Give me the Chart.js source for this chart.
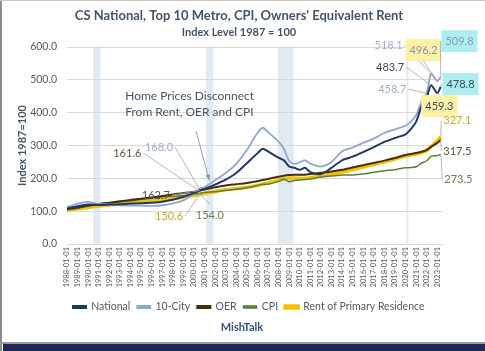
<!DOCTYPE html>
<html>
<head>
<meta charset="utf-8">
<title>CS National, Top 10 Metro, CPI, Owners' Equivalent Rent</title>
<script src="https://cdn.jsdelivr.net/npm/chart.js@4.4.1/dist/chart.umd.min.js"></script>
<style>
  html, body { margin: 0; padding: 0; background: #fff; }
  #chart { display: block; }
</style>
</head>
<body>
<canvas id="chart" width="485" height="351"></canvas>
<script>
// Index level, 1987 = 100
const dates = [
  '1988-01', '1989-01', '1990-01', '1991-01', '1992-01', '1993-01', '1994-01', '1995-01',
  '1996-01', '1997-01', '1998-01', '1999-01', '2000-01', '2000-07', '2001-01', '2002-01',
  '2003-01', '2004-01', '2005-01', '2006-01', '2006-07', '2007-01', '2008-01', '2008-07',
  '2009-01', '2009-07', '2010-01', '2010-07', '2011-01', '2012-01', '2013-01', '2014-01',
  '2015-01', '2016-01', '2017-01', '2018-01', '2019-01', '2020-01', '2020-07', '2021-01',
  '2021-07', '2022-01', '2022-06', '2023-01', '2023-05'
];
const national = [
  108, 115, 120, 119, 120, 121, 123, 124,
  126, 129, 135, 144, 155, 162.7, 168, 181,
  196, 216, 246, 276, 290, 282, 263, 255,
  236, 232, 226, 232, 219, 213, 232, 255,
  266, 280, 295, 311, 323, 334, 350, 372,
  418, 445, 483.7, 459.3, 478.8
];
const tenCity = [
  112, 123, 128, 122, 121, 118, 117, 117,
  116, 118, 124, 133, 153, 168.0, 173, 194,
  216, 244, 286, 338, 354, 341, 312, 290,
  253, 244, 249, 255, 245, 236, 250, 282,
  294, 308, 321, 338, 349, 360, 372, 392,
  432, 458.7, 518.1, 496.2, 509.8
];
const oer = [
  106, 111, 117, 122, 126, 130, 134, 138,
  142, 146, 151, 155, 159, 161.6, 166, 173,
  178, 182, 186, 191, 195, 198, 205, 208,
  210, 211, 211, 211, 213, 217, 221, 226,
  233, 240, 247, 254, 262, 271, 274, 277,
  281, 286, 296, 308, 317.5
];
const cpi = [
  104.3, 108.9, 114.6, 121.0, 124.2, 128.2, 131.5, 135.2,
  138.8, 143.1, 145.3, 147.8, 151.8, 154.0, 157.5, 159.3,
  163.4, 166.5, 171.5, 178.3, 181.9, 182.0, 190.8, 197.8,
  189.8, 193.3, 194.9, 196.1, 198.0, 203.9, 207.1, 210.3,
  210.2, 213.0, 218.4, 222.9, 226.3, 232.0, 233.0, 235.3,
  246.2, 252.8, 267.5, 269.1, 273.5
];
const rent = [
  103, 107, 111, 116, 119, 122, 125, 128,
  131, 135, 139, 143, 148, 150.6, 154, 160,
  165, 169, 173, 178, 182, 186, 194, 197,
  200, 201, 200, 200, 202, 207, 213, 219,
  226, 234, 242, 250, 259, 268, 271, 274,
  278, 285, 297, 314, 327.1
];

// NBER recessions (shaded)
const recessionStart = ['1990-07', '2001-03', '2007-12', '2020-02'];
const recessionEnd = ['1991-03', '2001-11', '2009-06', '2020-04'];

const textColor = '#44546a';
const tickColor = '#595959';

function toYear(s) {
    const [y, m] = s.split('-').map(Number);
    return y + (m - 1) / 12;
}

const seriesList = [
    { label: 'National', data: national, color: '#203864', width: 2 },
    { label: '10-City', data: tenCity, color: '#8fa6cc', width: 1.8 },
    { label: 'OER', data: oer, color: '#4a2c0c', width: 2 },
    { label: 'CPI', data: cpi, color: '#5b7f35', width: 1.5 },
    { label: 'Rent of Primary Residence', data: rent, color: '#f2c300', width: 3.5 },
];

// Data callouts: which point, and where its label sits (in data units)
const callouts = [
    { series: 'OER', date: '2000-07', lx: 1993.7, ly: 277, color: '#6b5232' },
    { series: '10-City', date: '2000-07', lx: 1996.7, ly: 295, color: '#9fb0cb' },
    { series: 'National', date: '2000-07', lx: 1996.4, ly: 149, color: '#4a5568' },
    { series: 'Rent of Primary Residence', date: '2000-07', lx: 1997.65, ly: 85, color: '#c9a62c' },
    { series: 'CPI', date: '2000-07', lx: 2001.5, ly: 88, color: '#6f7b55' },
    { series: '10-City', date: '2022-06', lx: 2018.4, ly: 606, color: '#9fb0cb' },
    { series: '10-City', date: '2023-01', lx: 2021.7, ly: 591, color: '#8594aa', box: '#fdf1a6' },
    { series: '10-City', date: '2023-05', lx: 2025.1, ly: 618, color: '#7f9fb0', box: '#aeeef0' },
    { series: 'National', date: '2022-06', lx: 2018.55, ly: 539, color: '#3d4a63' },
    { series: '10-City', date: '2022-01', lx: 2018.75, ly: 472, color: '#9fb0cb' },
    { series: 'National', date: '2023-05', lx: 2025.2, ly: 487, color: '#3d4a63', box: '#aeeef0' },
    { series: 'National', date: '2023-01', lx: 2023.2, ly: 420, color: '#3d4a63', box: '#fdf1a6' },
    { series: 'Rent of Primary Residence', date: '2023-05', lx: 2024.9, ly: 375, color: '#c9a62c' },
    { series: 'OER', date: '2023-05', lx: 2024.9, ly: 283, color: '#5e4b34' },
    { series: 'CPI', date: '2023-05', lx: 2025.0, ly: 198, color: '#6f7b55' },
];

Chart.defaults.font.family = "Lato, 'Open Sans', sans-serif";
Chart.defaults.color = tickColor;

// Frame, titles and footer text
const framePlugin = {
    id: 'frame',
    afterLayout(chart) {
        // put the legend row where the original has it
        const lg = chart.legend;
        if (!lg || !lg.lineWidths) return;
        const pad = lg.options.labels.padding;
        const x0 = (lg.left + pad + lg.right - lg.lineWidths[0]) / 2;
        const dx = 73 - x0;
        lg.left += dx;
        lg.right += dx;
        const h = lg.bottom - lg.top;
        lg.top = 307 - pad - 5.25;
        lg.bottom = lg.top + h;
    },
    beforeDraw(chart) {
        const { ctx, width, height } = chart;
        ctx.save();
        ctx.fillStyle = '#fff';
        ctx.fillRect(0, 0, width, height);
        ctx.fillStyle = '#8c8c8c';
        ctx.fillRect(0, 0, 2, height);
        ctx.fillStyle = '#c8c8c8';
        ctx.fillRect(0, 0, width, 1);
        ctx.restore();
    },
    afterDraw(chart) {
        const { ctx, width, height } = chart;
        ctx.save();
        ctx.fillStyle = '#9a9a9a';
        ctx.fillRect(0, height - 9, width, 2);
        ctx.fillStyle = '#1f2858';
        ctx.fillRect(3, height - 7, width - 3, 7);

        ctx.fillStyle = textColor;
        ctx.textAlign = 'center';
        ctx.textBaseline = 'middle';
        ctx.font = "bold 13px Lato";
        ctx.fillText("CS National, Top 10 Metro, CPI, Owners' Equivalent Rent", 239, 16);
        ctx.font = "bold 11px Lato";
        ctx.fillText('Index Level 1987 = 100', 239, 32);
        ctx.fillStyle = '#33507e';
        ctx.font = "bold 11px Lato";
        ctx.fillText('MishTalk', 242, 327);
        ctx.restore();
    }
};

// Shaded recession bands
const recessionPlugin = {
    id: 'recessions',
    beforeDatasetsDraw(chart) {
        const { ctx, chartArea, scales: { x } } = chart;
        ctx.save();
        ctx.fillStyle = 'rgba(200, 215, 232, 0.55)';
        recessionStart.forEach((s, i) => {
            const x0 = x.getPixelForValue(toYear(s));
            const x1 = x.getPixelForValue(toYear(recessionEnd[i]));
            ctx.fillRect(x0, chartArea.top, Math.max(x1 - x0, 2), chartArea.bottom - chartArea.top);
        });
        ctx.restore();
    }
};

// Value labels with leader lines + the "disconnect" note
const calloutPlugin = {
    id: 'callouts',
    afterDatasetsDraw(chart) {
        const { ctx, scales: { x, y } } = chart;
        ctx.save();
        ctx.font = '11px Lato';
        ctx.textAlign = 'center';
        ctx.textBaseline = 'middle';
        callouts.forEach(c => {
            const s = seriesList.find(d => d.label === c.series);
            const i = dates.indexOf(c.date);
            const value = s.data[i];
            const px = x.getPixelForValue(toYear(c.date));
            const py = y.getPixelForValue(value);
            const cx = x.getPixelForValue(c.lx);
            const cy = y.getPixelForValue(c.ly);
            const text = value.toFixed(1);
            const w = ctx.measureText(text).width;
            const half = w / 2 + (c.box ? 4 : 1);
            let sx, sy;
            if (px > cx + half) { sx = cx + half + 1; sy = cy; }
            else if (px < cx - half) { sx = cx - half - 1; sy = cy; }
            else { sx = cx; sy = py < cy ? cy - 11 : cy + 11; }
            ctx.strokeStyle = '#a6a6a6';
            ctx.lineWidth = 0.8;
            ctx.beginPath();
            ctx.moveTo(sx, sy);
            ctx.lineTo(px, py);
            ctx.stroke();
            if (c.box) {
                ctx.fillStyle = c.box;
                ctx.fillRect(cx - half, cy - 11, half * 2, 22);
            }
            ctx.fillStyle = c.color;
            ctx.fillText(text, cx, cy);
        });

        // note + arrow
        const nx = x.getPixelForValue(1993.5);
        const ny = y.getPixelForValue(450);
        ctx.fillStyle = textColor;
        ctx.textAlign = 'left';
        ctx.font = '12px Lato';
        ctx.fillText('Home Prices Disconnect', nx, ny);
        ctx.fillText('From Rent, OER and CPI', nx, ny + 16);

        const ax0 = x.getPixelForValue(2000.2), ay0 = y.getPixelForValue(344);
        const ax1 = x.getPixelForValue(2001.45), ay1 = y.getPixelForValue(194);
        const ang = Math.atan2(ay1 - ay0, ax1 - ax0);
        ctx.strokeStyle = '#8496b0';
        ctx.fillStyle = '#8496b0';
        ctx.lineWidth = 0.9;
        ctx.beginPath();
        ctx.moveTo(ax0, ay0);
        ctx.lineTo(ax1, ay1);
        ctx.stroke();
        ctx.beginPath();
        ctx.moveTo(ax1, ay1);
        ctx.lineTo(ax1 - 6 * Math.cos(ang - 0.4), ay1 - 6 * Math.sin(ang - 0.4));
        ctx.lineTo(ax1 - 6 * Math.cos(ang + 0.4), ay1 - 6 * Math.sin(ang + 0.4));
        ctx.closePath();
        ctx.fill();
        ctx.restore();
    }
};

new Chart(document.getElementById('chart'), {
    type: 'line',
    data: {
        datasets: seriesList.map(s => ({
            label: s.label,
            data: dates.map((d, i) => ({ x: toYear(d), y: s.data[i] })),
            borderColor: s.color,
            backgroundColor: s.color,
            borderWidth: s.width,
            pointRadius: 0,
            tension: 0.25,
            fill: false,
        }))
    },
    options: {
        responsive: false,
        devicePixelRatio: 1,
        animation: false,
        layout: {
            padding: { top: 47, left: 0, right: 43, bottom: 30 }
        },
        scales: {
            x: {
                type: 'linear',
                min: 1988,
                max: 2023.45,
                grid: { display: false, drawTicks: false },
                border: { display: true, color: '#d9d9d9' },
                ticks: {
                    stepSize: 1,
                    includeBounds: false,
                    autoSkip: false,
                    minRotation: 90,
                    maxRotation: 90,
                    padding: 3,
                    color: tickColor,
                    font: { size: 7.5 },
                    callback: v => Number.isInteger(v) ? v + '-01-01' : ''
                },
                afterFit: scale => { scale.height = 49.5; }
            },
            y: {
                min: 0,
                max: 600,
                grid: { color: '#d9d9d9', drawTicks: false },
                border: { display: false },
                ticks: {
                    stepSize: 100,
                    padding: 10,
                    color: tickColor,
                    font: { size: 10.5 },
                    callback: v => v.toFixed(1)
                },
                title: {
                    display: true,
                    text: 'Index 1987=100',
                    color: textColor,
                    font: { size: 11, weight: 'bold' },
                    padding: { top: 16 }
                },
                afterFit: scale => { scale.width = 67; }
            }
        },
        plugins: {
            legend: {
                position: 'bottom',
                labels: {
                    boxWidth: 13,
                    boxHeight: 2,
                    padding: 7,
                    color: tickColor,
                    font: { size: 10.5 }
                }
            },
            tooltip: { enabled: false }
        }
    },
    plugins: [framePlugin, recessionPlugin, calloutPlugin]
});
</script>
</body>
</html>
